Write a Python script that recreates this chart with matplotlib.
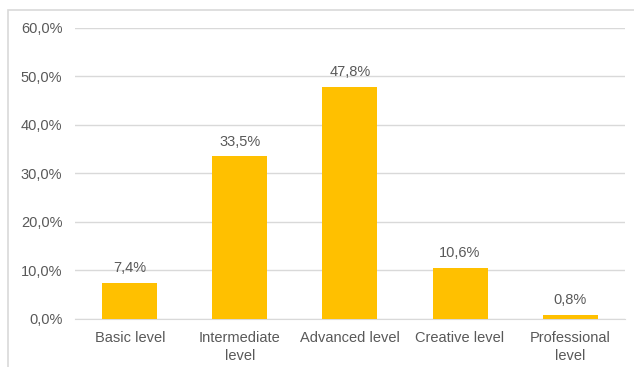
import matplotlib.pyplot as plt
from matplotlib.patches import Rectangle

categories = ["Basic level", "Intermediate\nlevel", "Advanced level", "Creative level", "Professional\nlevel"]
values = [7.4, 33.5, 47.8, 10.6, 0.8]
yticks = [0, 10, 20, 30, 40, 50, 60]

plt.rcParams['font.family'] = ['Liberation Sans', 'DejaVu Sans']
text_color = "#595959"
fs = 10.5

fig = plt.figure(figsize=(6.34, 3.67), dpi=100)
ax = fig.add_axes([0.118, 0.131, 0.868, 0.793])

# outer chart frame (only partly visible in the screenshot)
fig.patches.append(Rectangle((8 / 634, -0.1), 1.2, 1 - 10 / 367 + 0.1,
                             transform=fig.transFigure, fill=False,
                             edgecolor="#D9D9D9", linewidth=1.2))

x = range(len(categories))
bars = ax.bar(x, values, width=0.5, color="#FFC000", zorder=3)

for b, v in zip(bars, values):
    ax.text(b.get_x() + b.get_width() / 2, v + 1.6, f"{v:.1f}%".replace(".", ","),
            ha="center", va="bottom", fontsize=fs, color=text_color)

ax.set_ylim(0, 60)
ax.set_xlim(-0.5, len(categories) - 0.5)
ax.set_yticks(yticks)
ax.set_yticklabels([f"{t:.1f}%".replace(".", ",") for t in yticks], fontsize=fs, color=text_color)
ax.set_xticks(list(x))
ax.set_xticklabels(categories, fontsize=fs, color=text_color, linespacing=1.3)

ax.yaxis.grid(True, color="#D9D9D9", linewidth=1)
ax.set_axisbelow(True)
for s in ["top", "right", "left"]:
    ax.spines[s].set_visible(False)
ax.spines["bottom"].set_color("#D9D9D9")
ax.tick_params(axis="x", length=0, pad=9)
ax.tick_params(axis="y", length=0, pad=9)

fig.savefig("out.png", dpi=100)
plt.close(fig)
